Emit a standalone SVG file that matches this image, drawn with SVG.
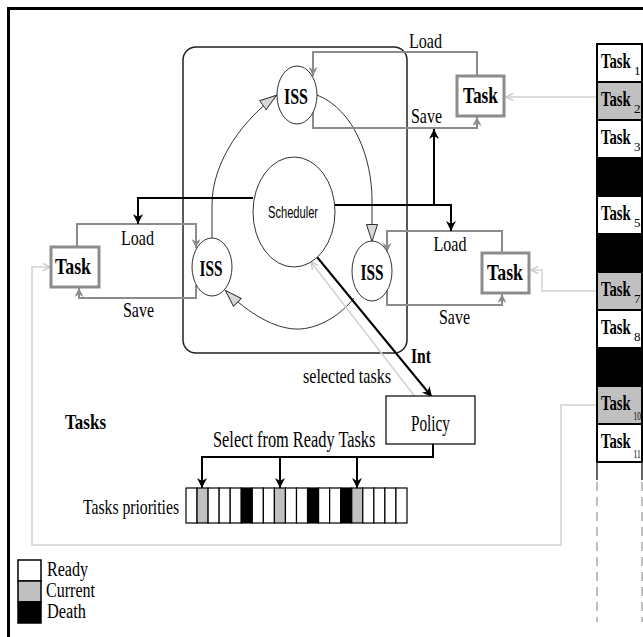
<svg xmlns="http://www.w3.org/2000/svg" width="643" height="637" viewBox="0 0 643 637">
<style>
.s{font-family:"Liberation Serif","Times New Roman",serif;fill:#000}
.b{font-weight:bold}
.ss{font-family:"Liberation Sans",Arial,sans-serif;fill:#000}
.gl{fill:none;stroke:#8c8c8c;stroke-width:2}
.bl{fill:none;stroke:#000;stroke-width:2}
.ll{fill:none;stroke:#d2d2d2;stroke-width:1.5}
.cy{fill:none;stroke:#333;stroke-width:1}
.node{fill:#fff;stroke:#333;stroke-width:1}
.tb{fill:#fff;stroke:#8c8c8c;stroke-width:3}
.cell{stroke:#000;stroke-width:1.2}
.w{fill:#fff}.g{fill:#c0c0c0}.k{fill:#000}
.row{stroke:#000;stroke-width:2}
.tk{font-family:"Liberation Serif","Times New Roman",serif;font-weight:bold;font-size:21px;fill:#000}
.sub{font-family:"Liberation Serif","Times New Roman",serif;font-size:13px;fill:#000}
</style>
<defs>
<marker id="tri" viewBox="0 0 18 12" refX="18" refY="6" markerWidth="18" markerHeight="12" markerUnits="userSpaceOnUse" orient="auto"><path d="M0.5,0.5 L17.5,6 L0.5,11.5 z" fill="#d8d8d8" stroke="#333" stroke-width="1"/></marker>
<marker id="ga" viewBox="0 0 10 10" refX="10" refY="5" markerWidth="9" markerHeight="9" markerUnits="userSpaceOnUse" orient="auto"><path d="M0,0 L10,5 L0,10 L3,5 z" fill="#8c8c8c"/></marker>
<marker id="ba" viewBox="0 0 10 10" refX="10" refY="5" markerWidth="11" markerHeight="10" markerUnits="userSpaceOnUse" orient="auto"><path d="M0,0 L10,5 L0,10 L3,5 z" fill="#000"/></marker>
<marker id="la" viewBox="0 0 10 10" refX="9" refY="5" markerWidth="9" markerHeight="9" markerUnits="userSpaceOnUse" orient="auto"><path d="M1,1 L9,5 L1,9" fill="none" stroke="#c8c8c8" stroke-width="1.5"/></marker>
</defs>
<rect width="643" height="637" fill="#fff"/>
<g id="frame"><path d="M8.5,637 V8.5 H643" fill="none" stroke="#000" stroke-width="3"/></g>

<g id="container"><rect x="183" y="47" width="224" height="306" rx="13" fill="none" stroke="#222" stroke-width="1.5"/></g>

<g id="connectors">
<path class="cy" d="M212,238 L212,205 C212,160 245,118 277,95" marker-end="url(#tri)"/>
<path class="cy" d="M317,95 C355,110 372,160 372,200 L372,242" marker-end="url(#tri)"/>
<path class="cy" d="M354,298 C335,322 310,330 295,329 C275,328 250,315 225,290" marker-end="url(#tri)"/>
<path class="gl" d="M477,76 V52 H313 V76" marker-end="url(#ga)"/>
<path class="gl" d="M313,112 V128 H477 V117" marker-end="url(#ga)"/>
<path class="gl" d="M77,247 V224 H196 V248" marker-end="url(#ga)"/>
<path class="gl" d="M196,285 V298 H79 V288" marker-end="url(#ga)"/>
<path class="gl" d="M502,253 V231 H387 V252" marker-end="url(#ga)"/>
<path class="gl" d="M387,290 V305 H502 V294" marker-end="url(#ga)"/>
<path class="bl" d="M253,198 H138 V224" marker-end="url(#ba)"/>
<path class="bl" d="M335,205 H451 V231" marker-end="url(#ba)"/>
<path class="bl" d="M434,205 V129" marker-end="url(#ba)"/>
<path class="bl" d="M317,257 L432,397" marker-end="url(#ba)"/>
<path class="ll" d="M416,398 L311,262" marker-end="url(#la)"/>
<path class="bl" d="M433,444 V457 H202"/>
<path class="bl" d="M202,456 V488" marker-end="url(#ba)"/>
<path class="bl" d="M280,456 V488" marker-end="url(#ba)"/>
<path class="bl" d="M357,456 V488" marker-end="url(#ba)"/>
<path class="ll" d="M597,97 H506" marker-end="url(#la)"/>
<path class="ll" d="M597,291 H542 V270 H531" marker-end="url(#la)"/>
<path class="ll" d="M597,405 H561 V545 H32 V267 H50" marker-end="url(#la)"/>
</g>

<g id="scheduler"><ellipse class="node" cx="294" cy="212" rx="41" ry="55"/><text class="ss" x="293" y="218" font-size="16" text-anchor="middle" textLength="50" lengthAdjust="spacingAndGlyphs">Scheduler</text></g>
<g id="iss-top"><ellipse class="node" cx="297" cy="95" rx="20" ry="29"/><text class="s b" x="296" y="104" font-size="24" text-anchor="middle" textLength="24" lengthAdjust="spacingAndGlyphs">ISS</text></g>
<g id="iss-left"><ellipse class="node" cx="212" cy="267" rx="20" ry="29"/><text class="s b" x="211" y="276" font-size="24" text-anchor="middle" textLength="23" lengthAdjust="spacingAndGlyphs">ISS</text></g>
<g id="iss-right"><ellipse class="node" cx="372" cy="271" rx="20" ry="30"/><text class="s b" x="372" y="280" font-size="24" text-anchor="middle" textLength="23" lengthAdjust="spacingAndGlyphs">ISS</text></g>

<g id="task-top"><rect class="tb" x="457" y="76" width="47" height="40"/><text class="s b" x="480.5" y="103" font-size="24" text-anchor="middle" textLength="35" lengthAdjust="spacingAndGlyphs">Task</text></g>
<g id="task-left"><rect class="tb" x="51" y="247" width="48" height="40"/><text class="s b" x="73" y="274" font-size="24" text-anchor="middle" textLength="36" lengthAdjust="spacingAndGlyphs">Task</text></g>
<g id="task-right"><rect class="tb" x="482" y="253" width="47" height="40"/><text class="s b" x="505" y="280" font-size="24" text-anchor="middle" textLength="36" lengthAdjust="spacingAndGlyphs">Task</text></g>

<g id="policy"><rect x="386" y="396" width="89" height="48" fill="#fff" stroke="#000" stroke-width="1.2"/><text class="s" x="430.5" y="431" font-size="23" text-anchor="middle" textLength="39" lengthAdjust="spacingAndGlyphs">Policy</text></g>

<g id="labels">
<text class="s" x="425.5" y="48" font-size="22" text-anchor="middle" textLength="33" lengthAdjust="spacingAndGlyphs">Load</text>
<text class="s" x="426.5" y="123" font-size="22" text-anchor="middle" textLength="31" lengthAdjust="spacingAndGlyphs">Save</text>
<text class="s" x="137.5" y="245" font-size="22" text-anchor="middle" textLength="33" lengthAdjust="spacingAndGlyphs">Load</text>
<text class="s" x="138.5" y="317" font-size="22" text-anchor="middle" textLength="31" lengthAdjust="spacingAndGlyphs">Save</text>
<text class="s" x="450" y="251" font-size="22" text-anchor="middle" textLength="33" lengthAdjust="spacingAndGlyphs">Load</text>
<text class="s" x="454.5" y="324" font-size="22" text-anchor="middle" textLength="31" lengthAdjust="spacingAndGlyphs">Save</text>
<text class="s b" x="411" y="363" font-size="22" textLength="20" lengthAdjust="spacingAndGlyphs">Int</text>
<text class="s" x="303" y="383" font-size="21" textLength="88" lengthAdjust="spacingAndGlyphs">selected tasks</text>
<text class="s b" x="65" y="429" font-size="22" textLength="41" lengthAdjust="spacingAndGlyphs">Tasks</text>
<text class="s" font-size="23" transform="translate(213,447) scale(0.711,1)">Select from Ready Tasks</text>
<text class="s" x="83" y="514" font-size="22" textLength="96" lengthAdjust="spacingAndGlyphs">Tasks priorities</text>
</g>

<g id="priorities">
<rect class="cell w" x="186" y="488" width="11.05" height="35"/>
<rect class="cell g" x="197.05" y="488" width="11.05" height="35"/>
<rect class="cell w" x="208.1" y="488" width="11.05" height="35"/>
<rect class="cell w" x="219.15" y="488" width="11.05" height="35"/>
<rect class="cell w" x="230.2" y="488" width="11.05" height="35"/>
<rect class="cell k" x="241.25" y="488" width="11.05" height="35"/>
<rect class="cell w" x="252.3" y="488" width="11.05" height="35"/>
<rect class="cell w" x="263.35" y="488" width="11.05" height="35"/>
<rect class="cell g" x="274.4" y="488" width="11.05" height="35"/>
<rect class="cell w" x="285.45" y="488" width="11.05" height="35"/>
<rect class="cell w" x="296.5" y="488" width="11.05" height="35"/>
<rect class="cell k" x="307.55" y="488" width="11.05" height="35"/>
<rect class="cell w" x="318.6" y="488" width="11.05" height="35"/>
<rect class="cell w" x="329.65" y="488" width="11.05" height="35"/>
<rect class="cell k" x="340.7" y="488" width="11.05" height="35"/>
<rect class="cell g" x="351.75" y="488" width="11.05" height="35"/>
<rect class="cell w" x="362.8" y="488" width="11.05" height="35"/>
<rect class="cell w" x="373.85" y="488" width="11.05" height="35"/>
<rect class="cell w" x="384.9" y="488" width="11.05" height="35"/>
<rect class="cell w" x="395.95" y="488" width="11.05" height="35"/>
</g>

<g id="task-list">
<rect class="w row" x="597" y="44" width="45" height="38"/>
<rect class="g row" x="597" y="82" width="45" height="38"/>
<rect class="w row" x="597" y="120" width="45" height="38"/>
<rect class="k row" x="597" y="158" width="45" height="38"/>
<rect class="w row" x="597" y="196" width="45" height="38"/>
<rect class="k row" x="597" y="234" width="45" height="38"/>
<rect class="g row" x="597" y="272" width="45" height="38"/>
<rect class="w row" x="597" y="310" width="45" height="38"/>
<rect class="k row" x="597" y="348" width="45" height="38"/>
<rect class="g row" x="597" y="386" width="45" height="38"/>
<rect class="w row" x="597" y="424" width="45" height="38"/>
<path d="M597,462 V480 M642,462 V480" stroke="#333" stroke-width="1.5"/>
<path d="M597,482 V622 M642,482 V622" stroke="#aaa" stroke-width="1.5" stroke-dasharray="9,6"/>
<text class="tk" transform="translate(601,68) scale(0.7,1)">Task</text><text class="sub" x="634" y="75">1</text>
<text class="tk" transform="translate(601,106) scale(0.7,1)">Task</text><text class="sub" x="634" y="113">2</text>
<text class="tk" transform="translate(601,144) scale(0.7,1)">Task</text><text class="sub" x="634" y="151">3</text>
<text class="tk" transform="translate(601,220) scale(0.7,1)">Task</text><text class="sub" x="634" y="227">5</text>
<text class="tk" transform="translate(601,296) scale(0.7,1)">Task</text><text class="sub" x="634" y="303">7</text>
<text class="tk" transform="translate(601,334) scale(0.7,1)">Task</text><text class="sub" x="634" y="341">8</text>
<text class="tk" transform="translate(601,410) scale(0.7,1)">Task</text><text class="sub" transform="translate(633.5,420) scale(0.58,1)">10</text>
<text class="tk" transform="translate(601,448) scale(0.7,1)">Task</text><text class="sub" transform="translate(633.5,458) scale(0.58,1)">11</text>
</g>

<g id="legend">
<rect class="w" x="18" y="560" width="23" height="21" stroke="#000" stroke-width="1.5"/>
<rect class="g" x="18" y="581" width="23" height="21" stroke="#000" stroke-width="1.5"/>
<rect class="k" x="18" y="602" width="23" height="21" stroke="#000" stroke-width="1.5"/>
<text class="s" x="47" y="576" font-size="20" textLength="41" lengthAdjust="spacingAndGlyphs">Ready</text>
<text class="s" x="46" y="597" font-size="20" textLength="49" lengthAdjust="spacingAndGlyphs">Current</text>
<text class="s" x="47" y="618" font-size="20" textLength="39" lengthAdjust="spacingAndGlyphs">Death</text>
</g>
</svg>
